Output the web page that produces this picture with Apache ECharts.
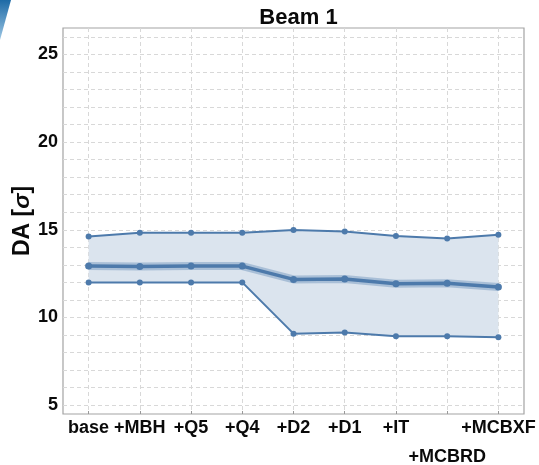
<!DOCTYPE html>
<html>
<head>
<meta charset="utf-8">
<script src="https://cdn.jsdelivr.net/npm/echarts@6/dist/echarts.min.js"></script>
<style>
  html, body { margin: 0; padding: 0; background: #fff; }
  #chart { width: 539px; height: 465px; }
</style>
</head>
<body>
<div id="chart"></div>
<script>
// Dynamic aperture per configuration step (Beam 1)
const steps = ['base', '+MBH', '+Q5', '+Q4', '+D2', '+D1', '+IT', '+MCBRD', '+MCBXF'];
const daMax  = [14.62, 14.83, 14.83, 14.83, 14.98, 14.90, 14.64, 14.50, 14.71];
const daMean = [12.93, 12.91, 12.93, 12.93, 12.17, 12.20, 11.92, 11.95, 11.74];
const daMin  = [12.00, 12.00, 12.00, 12.00, 9.08, 9.14, 8.93, 8.93, 8.87];
const yLabelValues = [5, 10, 15, 20, 25];
const yGridValues = [5, 6, 7, 8, 9, 10, 11, 12, 13, 14, 15, 16, 17, 18, 19, 20, 21, 22, 23, 24, 25, 26];

const lineColor = '#4d7aab';
const fillColor = '#dbe4ee';
const font = '"Liberation Sans", Arial, sans-serif';

// band between min and max: stacked width on top of the min curve
const spread = daMax.map((v, i) => +(v - daMin[i]).toFixed(3));

const chart = echarts.init(document.getElementById('chart'), null, { renderer: 'canvas' });
chart.setOption({
  animation: false,
  backgroundColor: '#fff',
  title: {
    text: 'Beam 1',
    left: 293.5,
    textAlign: 'center',
    top: 2,
    textStyle: { fontFamily: font, fontWeight: 'bold', fontSize: 22, color: '#0a0a0a' }
  },
  graphic: [{
    type: 'polygon',
    shape: { points: [[0, 0], [11, 0], [0, 40]] },
    style: {
      fill: new echarts.graphic.LinearGradient(0, 0, 0, 1, [
        { offset: 0, color: '#1d6aa6' },
        { offset: 1, color: '#9cc6e4' }
      ])
    },
    silent: true
  }],
  grid: {
    left: 63, right: 15, top: 28, bottom: 51,
    outerBoundsMode: 'none',
    containLabel: false,
    show: true, borderColor: '#a3a3a3', borderWidth: 1.2, backgroundColor: 'transparent'
  },
  xAxis: {
    type: 'category',
    data: steps,
    boundaryGap: true,
    axisLine: { show: false },
    axisTick: { show: true, alignWithLabel: true, inside: true, length: 3, lineStyle: { color: '#999' } },
    splitLine: { show: true, alignWithLabel: true, lineStyle: { color: '#d8d8d8', type: [4, 3], width: 1 } },
    axisLabel: {
      interval: 0,
      margin: 0,
      fontFamily: font, fontWeight: 'bold', fontSize: 18, color: '#0a0a0a',
      lineHeight: 29,
      formatter: (v, i) => (i === 7 ? '\n' + v : v)
    }
  },
  yAxis: {
    type: 'value',
    min: 4.5,
    max: 26.5,
    name: 'DA [{s|σ}]',
    nameLocation: 'middle',
    nameGap: 29,
    nameMoveOverlap: false,
    nameRotate: 90,
    nameTextStyle: {
      fontFamily: font, fontWeight: 'bold', fontSize: 23, color: '#0a0a0a',
      rich: { s: { fontFamily: font, fontWeight: 'bold', fontStyle: 'italic', fontSize: 23, color: '#0a0a0a' } }
    },
    axisLine: { show: false },
    axisTick: { show: false, customValues: yGridValues },
    splitLine: { show: true, lineStyle: { color: '#d8d8d8', type: [4, 3], width: 1 } },
    axisLabel: {
      customValues: yLabelValues,
      margin: 5,
      fontFamily: font, fontWeight: 'bold', fontSize: 18, color: '#0a0a0a'
    }
  },
  series: [
    {
      name: 'bandBase', type: 'line', data: daMin, stack: 'env',
      symbol: 'none', lineStyle: { opacity: 0 }, silent: true
    },
    {
      name: 'bandSpread', type: 'line', data: spread, stack: 'env',
      symbol: 'none', lineStyle: { opacity: 0 },
      areaStyle: { color: fillColor, opacity: 1 }, silent: true
    },
    {
      name: 'meanHalo', type: 'line', data: daMean,
      symbol: 'none', lineStyle: { color: lineColor, width: 8, opacity: 0.35 }, silent: true
    },
    {
      name: 'max', type: 'line', data: daMax,
      symbol: 'circle', symbolSize: 6,
      itemStyle: { color: lineColor }, lineStyle: { color: lineColor, width: 2 }
    },
    {
      name: 'mean', type: 'line', data: daMean,
      symbol: 'circle', symbolSize: 7,
      itemStyle: { color: lineColor }, lineStyle: { color: lineColor, width: 3.5 }
    },
    {
      name: 'min', type: 'line', data: daMin,
      symbol: 'circle', symbolSize: 6,
      itemStyle: { color: lineColor }, lineStyle: { color: lineColor, width: 2 }
    }
  ]
});
</script>
</body>
</html>
